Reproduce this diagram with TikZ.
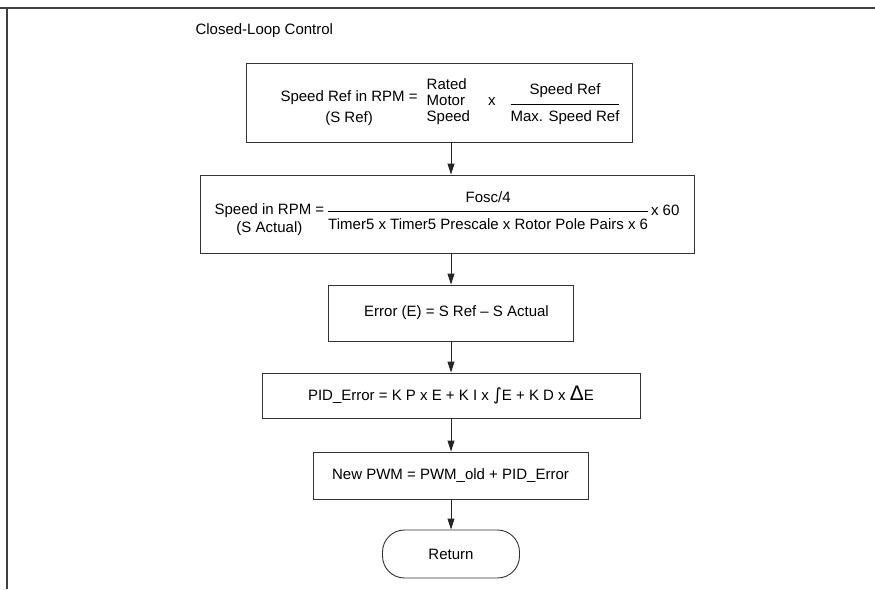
\documentclass[tikz,border=0pt]{standalone}
\usepackage{fontspec}
\setmainfont{Liberation Sans}
\newfontfamily\symfont{DejaVu Sans}
\usetikzlibrary{arrows.meta}

% fraction made of text, with the bar as wide as the longer line
\newcommand{\txtfrac}[2]{\begin{tabular}{@{}c@{}}#1\\[4pt]\hline\rule{0pt}{18pt}#2\end{tabular}}
\newcommand{\txtstack}[2][c]{\begin{tabular}{@{}#1@{}}#2\end{tabular}}

\begin{document}
\begin{tikzpicture}[x=1pt, y=-1pt, >={Triangle[length=11pt,width=7pt]},
  every node/.style={font=\fontsize{15}{17}\selectfont, text=black},
  stepbox/.style={draw=black!80, line width=0.9pt, inner sep=0pt, align=center},
  flow/.style={->, draw=black!85, line width=0.9pt},
  frameline/.style={draw=black!75, line width=1.6pt}]

\useasboundingbox (0,0) rectangle (875,589);

% page frame
\coordinate (corner) at (7,8);
\draw [frameline] (0,8) -- (875,8);
\draw [frameline] (corner) -- (7,589);

\node [anchor=west] (title) at (192,31) {Closed-Loop Control};

\node [stepbox, minimum width=386pt, minimum height=79pt] (sref) at (439,102.5)
  {\hspace*{22pt}\raisebox{-10pt}{\txtstack{Speed Ref in RPM =\\[4pt](S Ref)}}\hspace{9pt}%
   \raisebox{-3pt}{\txtstack[l]{Rated\\[-1pt]Motor\\[-1pt]Speed}}\hspace{18pt}\raisebox{-3pt}{x}\hspace{15pt}%
   \raisebox{-6pt}{\txtfrac{Speed Ref}{Max. Speed Ref}}};

\node [stepbox, minimum width=494pt, minimum height=78pt] (sact) at (447,214)
  {\raisebox{-8pt}{\txtstack{Speed in RPM =\\[1pt](S Actual)}}\hspace{4pt}%
   \txtfrac{Fosc/4}{Timer5 x Timer5 Prescale x Rotor Pole Pairs x 6}\hspace{3pt}%
   x 60};

\node [stepbox, minimum width=245pt, minimum height=56pt] (err) at (450.5,313)
  {\hspace*{12pt}Error (E) = S Ref – S Actual};

\node [stepbox, minimum width=378pt, minimum height=45pt] (pid) at (451,395.5)
  {PID\_Error = K P x E + K I x {\symfont\fontsize{17}{17}\selectfont∫}E + K D x {\fontsize{21}{21}\selectfont Δ}E};

\node [stepbox, minimum width=275pt, minimum height=47pt] (pwm) at (450.5,475.5)
  {New PWM = PWM\_old + PID\_Error};

\node [stepbox, rounded corners=22pt, minimum width=137pt, minimum height=48pt] (ret) at (451,554)
  {Return};

\draw [flow] (sref.south -| ret) -- (sact.north -| ret);
\draw [flow] (sact.south -| ret) -- (err.north -| ret);
\draw [flow] (err.south -| ret) -- (pid.north -| ret);
\draw [flow] (pid.south -| ret) -- (pwm.north -| ret);
\draw [flow] (pwm.south -| ret) -- (ret.north);
\end{tikzpicture}
\end{document}
